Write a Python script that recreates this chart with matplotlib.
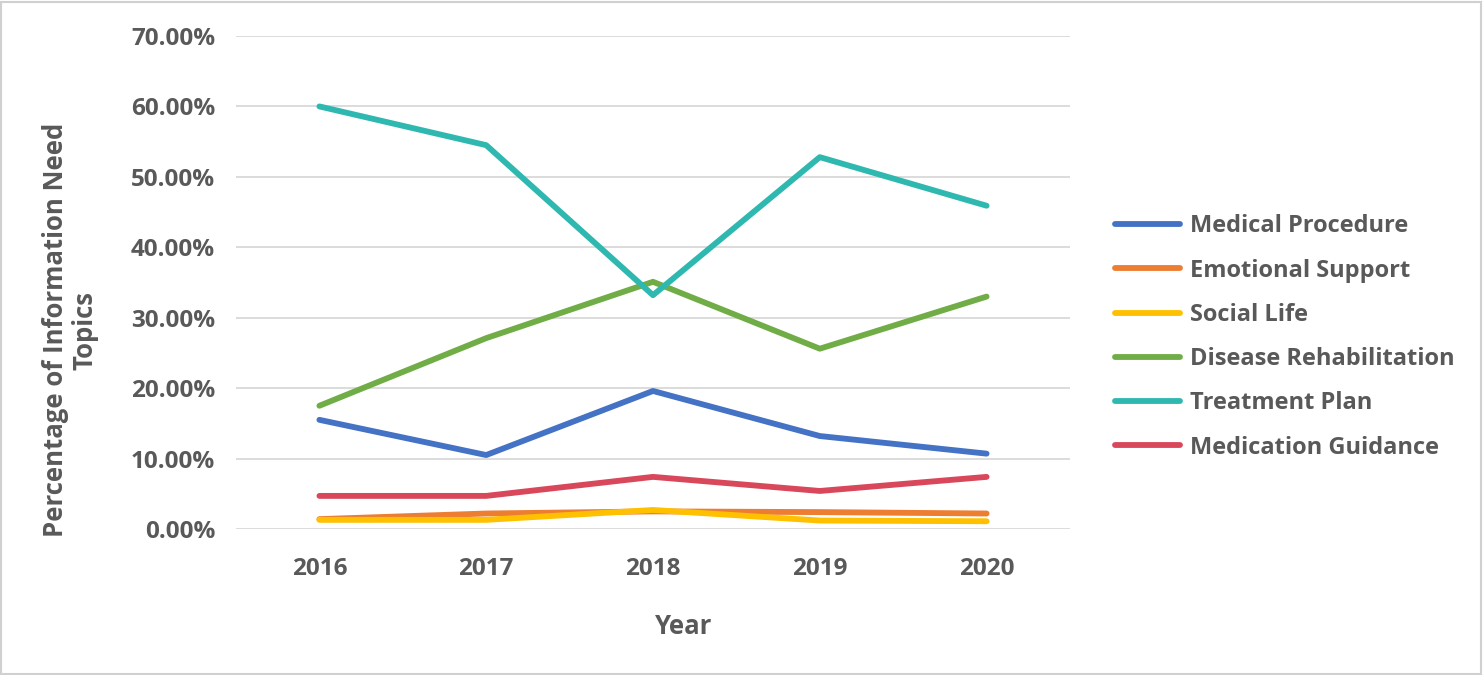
import matplotlib
matplotlib.use("Agg")
from matplotlib import pyplot as plt
from matplotlib.patches import Rectangle
from matplotlib.ticker import PercentFormatter

years = ["2016", "2017", "2018", "2019", "2020"]
medical_procedure = [15.5, 10.5, 19.6, 13.2, 10.7]
emotional_support = [1.4, 2.2, 2.5, 2.4, 2.2]
social_life = [1.3, 1.3, 2.7, 1.2, 1.1]
disease_rehab = [17.5, 27.1, 35.1, 25.6, 33.0]
treatment_plan = [60.0, 54.5, 33.2, 52.8, 45.9]
medication_guidance = [4.7, 4.7, 7.4, 5.4, 7.4]

series = [
    ("Medical Procedure", medical_procedure, "#4472C4"),
    ("Emotional Support", emotional_support, "#ED7D31"),
    ("Social Life", social_life, "#FFC000"),
    ("Disease Rehabilitation", disease_rehab, "#70AD47"),
    ("Treatment Plan", treatment_plan, "#2FB8B0"),
    ("Medication Guidance", medication_guidance, "#D9475A"),
]

txt = "#595959"
plt.rcParams['font.family'] = ['Open Sans', 'DejaVu Sans']
plt.rcParams['font.weight'] = 'bold'

fig = plt.figure(figsize=(14.84, 6.75), dpi=100)
ax = fig.add_axes([236 / 1484, 1 - 529 / 675, (1070 - 236) / 1484, (529 - 36) / 675])

x = list(range(len(years)))
for name, vals, col in series:
    ax.plot(x, vals, color=col, lw=4.2, label=name, solid_capstyle='round', solid_joinstyle='round')

ax.set_xlim(-0.5, len(years) - 0.5)
ax.set_ylim(0, 70)
ax.set_yticks(range(0, 71, 10))
ax.yaxis.set_major_formatter(PercentFormatter(decimals=2))
ax.set_xticks(x)
ax.set_xticklabels(years)
ax.grid(axis='y', color='#D9D9D9', lw=1.3)
ax.set_axisbelow(True)
for s in ax.spines.values():
    s.set_visible(False)
ax.tick_params(length=0, labelsize=17.5, labelcolor=txt)
ax.tick_params(axis='y', pad=15)
ax.tick_params(axis='x', pad=20)
for lab in ax.get_xticklabels() + ax.get_yticklabels():
    lab.set_fontweight('bold')

fig.text(70 / 1484, 1 - 330 / 675, "Percentage of Information Need\nTopics", rotation=90,
         ha='center', va='center', ma='center', fontsize=18.5, color=txt, fontweight='bold',
         linespacing=1.1)
fig.text(684 / 1484, 1 - 627 / 675, "Year", ha='center', va='center', fontsize=18.5,
         color=txt, fontweight='bold')

leg = fig.legend(loc='center left', bbox_to_anchor=(1094 / 1484, 1 - 337 / 675), frameon=False,
                 fontsize=17, handlelength=2.75, handletextpad=0.4, labelspacing=0.86)
for t in leg.get_texts():
    t.set_color(txt)
    t.set_fontweight('bold')

fig.patches.append(Rectangle((0.001, 0.002), 0.997, 0.995, transform=fig.transFigure,
                             fill=False, edgecolor='#D0D0D0', lw=1.5))

fig.savefig("out.png", dpi=100)
